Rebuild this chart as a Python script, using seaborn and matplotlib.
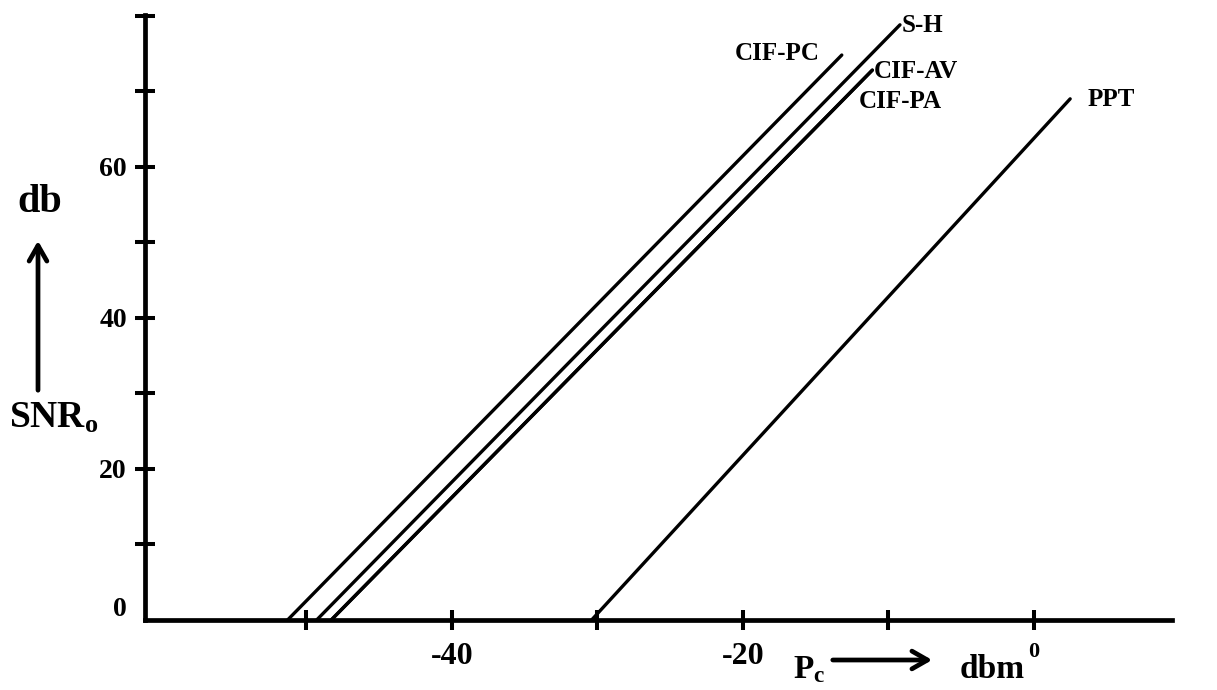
import numpy as np
import pandas as pd
import matplotlib
matplotlib.use("Agg")
import matplotlib.pyplot as plt
from matplotlib.transforms import ScaledTranslation
import seaborn as sns

# ---- data ----
schemes = ["CIF-PC", "S-H", "CIF-AV", "CIF-PA", "PPT"]
pc_start = [-51.3, -49.3, -48.3, -48.3, -30.4]     # dbm where SNRo = 0
pc_end = [-13.2, -9.2, -11.1, -11.1, 2.5]          # dbm at upper end
snr_start = [0, 0, 0, 0, 0]
snr_end = [74.8, 78.8, 72.8, 72.8, 69.0]           # db at upper end

xticks = [-50, -40, -30, -20, -10, 0]
xticklabels = ["", "-40", "", "-20", "", "0"]
yticks = [0, 10, 20, 30, 40, 50, 60, 70, 80]
yticklabels = ["0", "", "20", "", "40", "", "60", "", ""]

rows = []
for s, x0, x1, y0, y1 in zip(schemes, pc_start, pc_end, snr_start, snr_end):
    rows.append({"scheme": s, "P": x0, "SNR": y0})
    rows.append({"scheme": s, "P": x1, "SNR": y1})
df = pd.DataFrame(rows)

sns.set_theme(style="white")
plt.rcParams["font.family"] = ["Liberation Serif", "DejaVu Serif"]
plt.rcParams["font.weight"] = "bold"
plt.rcParams["text.color"] = "black"
plt.rcParams["axes.labelcolor"] = "black"
plt.rcParams["xtick.color"] = "black"
plt.rcParams["ytick.color"] = "black"
plt.rcParams["mathtext.fontset"] = "custom"
plt.rcParams["mathtext.rm"] = "Liberation Serif:bold"
plt.rcParams["mathtext.it"] = "Liberation Serif:bold"
plt.rcParams["mathtext.bf"] = "Liberation Serif:bold"

fig = plt.figure(figsize=(12.17, 6.90), dpi=100)
ax = fig.add_axes([145 / 1217, 70 / 690, 1027 / 1217, 605 / 690])

sns.lineplot(data=df, x="P", y="SNR", hue="scheme", palette=["black"] * len(schemes),
             legend=False, linewidth=2.4, estimator=None, sort=False, ax=ax)

ax.set_xlim(-61.1, 9.5)
ax.set_ylim(0, 80.1)

for side in ["top", "right"]:
    ax.spines[side].set_visible(False)
for side in ["left", "bottom"]:
    ax.spines[side].set_color("black")
    ax.spines[side].set_linewidth(3.4)

ax.set_xticks(xticks)
ax.set_xticklabels(xticklabels, fontsize=23, fontweight="bold", color="black")
ax.set_yticks(yticks)
ax.set_yticklabels(yticklabels, fontsize=20, fontweight="bold", color="black")
ax.tick_params(axis="both", direction="inout", length=14.4, width=2.9, color="black",
               bottom=True, left=True, labelbottom=True, labelleft=True)
ax.tick_params(axis="x", pad=8.6)
ax.tick_params(axis="y", pad=5.8)
ax.yaxis.get_major_ticks()[0].tick1line.set_visible(False)

# "0" x label smaller, "0" y label a bit higher
xl = ax.get_xticklabels()
xl[-1].set_fontsize(16)
yl = ax.get_yticklabels()
yl[0].set_transform(yl[0].get_transform() + ScaledTranslation(0, 13 / 100, fig.dpi_scale_trans))

ax.set_xlabel("")
ax.set_ylabel("")
ax.grid(False)

# curve labels, placed relative to line ends
def end(name):
    i = schemes.index(name)
    return (pc_end[i], snr_end[i])

lab_kw = dict(textcoords="offset pixels", fontsize=18, fontweight="bold", va="center",
              color="black")
ax.annotate("CIF-PC", xy=end("CIF-PC"), xytext=(-22, 2), ha="right", **lab_kw)
ax.annotate("S-H", xy=end("S-H"), xytext=(2, -1), ha="left", **lab_kw)
ax.annotate("CIF-AV", xy=end("CIF-AV"), xytext=(1, -1), ha="left", **lab_kw)
ax.annotate("CIF-PA", xy=end("CIF-PA"), xytext=(-14, -31), ha="left", **lab_kw)
ax.annotate("PPT", xy=end("PPT"), xytext=(17, -1), ha="left", **lab_kw)

# axis captions with arrows (figure pixels, origin bottom-left)
fig.text(40 / 1217, 487 / 690, "db", fontsize=29, fontweight="bold", ha="center",
         va="center", color="black")
fig.text(9 / 1217, 262 / 690, "SNR$_\\mathrm{o}$", fontsize=27, fontweight="bold",
         ha="left", va="baseline", color="black")
fig.add_artist(matplotlib.patches.FancyArrowPatch(
    (38 / 1217, 297 / 690), (38 / 1217, 452 / 690), transform=fig.transFigure,
    arrowstyle="->,head_length=7,head_width=4", lw=3.4, color="black", mutation_scale=1.6))

fig.text(793 / 1217, 12 / 690, "P$_\\mathrm{c}$", fontsize=24, fontweight="bold",
         ha="left", va="baseline", color="black")
fig.text(960 / 1217, 12 / 690, "dbm", fontsize=24, fontweight="bold", ha="left",
         va="baseline", color="black")
fig.add_artist(matplotlib.patches.FancyArrowPatch(
    (830 / 1217, 30 / 690), (935 / 1217, 30 / 690), transform=fig.transFigure,
    arrowstyle="->,head_length=7,head_width=4", lw=3.4, color="black", mutation_scale=1.6))

fig.savefig("out.png", dpi=100, facecolor="white")
